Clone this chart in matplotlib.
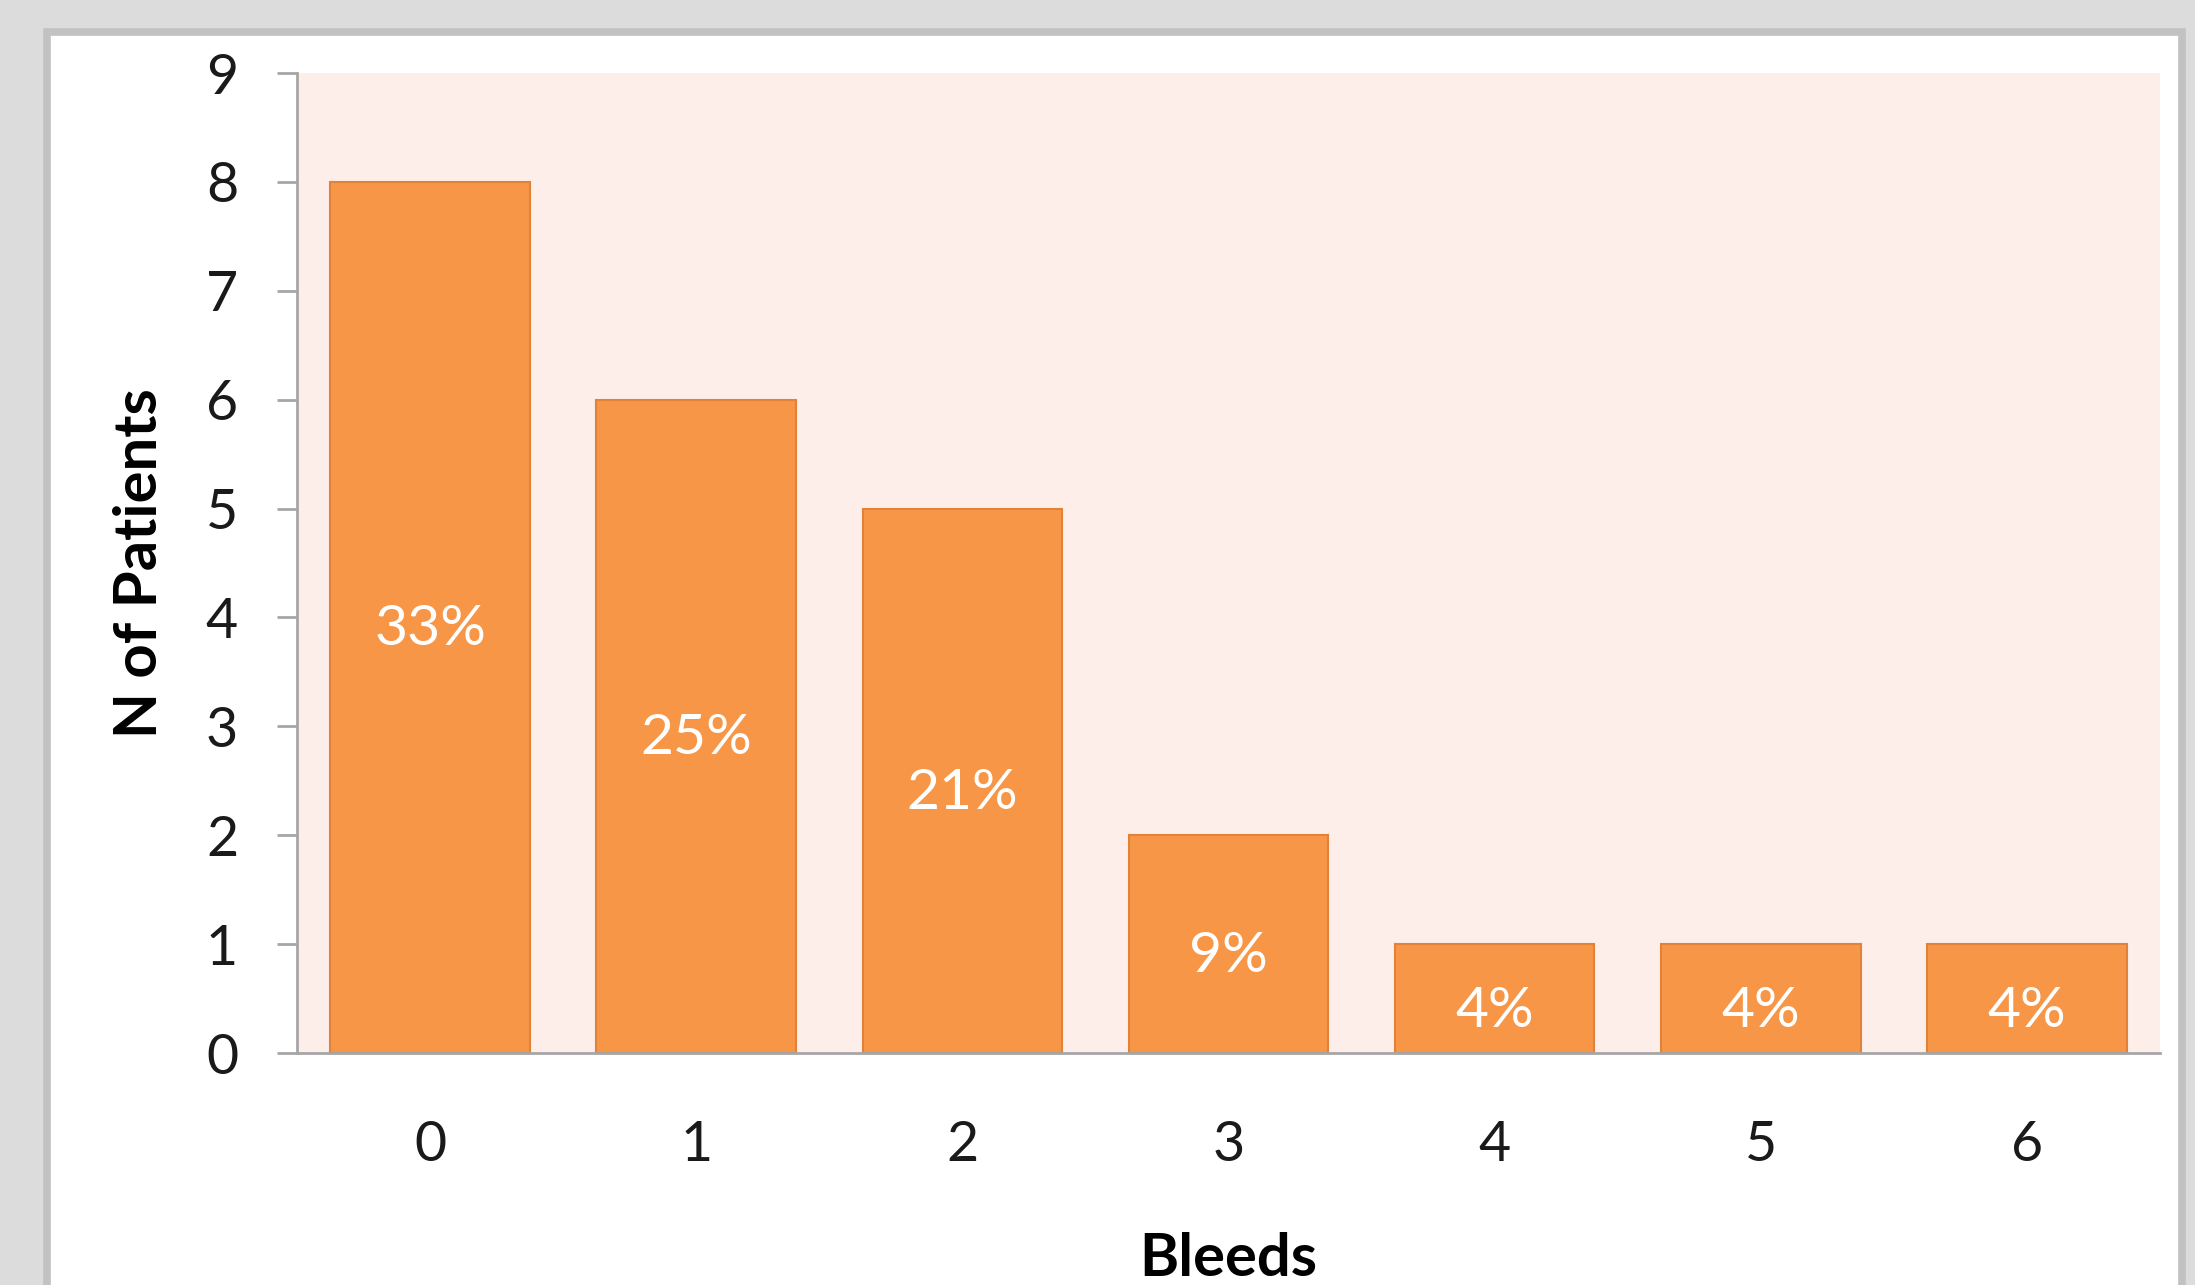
import matplotlib
matplotlib.use('Agg')
import matplotlib.pyplot as plt
from matplotlib.patches import Rectangle

bleeds = ['0', '1', '2', '3', '4', '5', '6']
patients = [8, 6, 5, 2, 1, 1, 1]
pct_labels = ['33%', '25%', '21%', '9%', '4%', '4%', '4%']

plt.rcParams['font.family'] = ['Lato', 'DejaVu Sans']

W, H = 2195, 1285
fig = plt.figure(figsize=(W / 100, H / 100), dpi=100, facecolor='#dcdcdc')

# white slide panel with grey frame
fig.patches.append(Rectangle((47 / W, -0.1), (2182 - 47) / W, 1.1 - 32 / H,
                             transform=fig.transFigure, facecolor='white',
                             edgecolor='#c2c2c2', linewidth=5.5, zorder=-1))

ax = fig.add_axes([297 / W, 1 - 1053 / H, (2160 - 297) / W, (1053 - 73) / H])
ax.set_facecolor('#fdeee9')

x = range(len(bleeds))
bars = ax.bar(x, patients, width=0.75, color='#f79646', edgecolor='#e0823a',
              linewidth=1.5, zorder=2)
for b, lab in zip(bars, pct_labels):
    ax.annotate(lab, (b.get_x() + b.get_width() / 2, b.get_height() / 2),
                xytext=(0, -9), textcoords='offset points',
                ha='center', va='center', color='white', fontsize=41, zorder=3)

ax.set_xlim(-0.5, len(bleeds) - 0.5)
ax.set_ylim(0, 9)
ax.set_yticks(range(10))
ax.set_xticks(list(x))
ax.set_xticklabels(bleeds)

for s in ['top', 'right']:
    ax.spines[s].set_visible(False)
for s in ['left', 'bottom']:
    ax.spines[s].set_color('#a6a6a6')
    ax.spines[s].set_linewidth(2)

ax.tick_params(axis='y', length=14.4, width=2, color='#a6a6a6', pad=28,
               labelsize=40, labelcolor='#1a1a1a')
ax.tick_params(axis='x', length=0, pad=48, labelsize=40, labelcolor='#1a1a1a')

ax.set_ylabel('N of Patients', fontsize=43, fontweight='bold', labelpad=28)
ax.set_xlabel('Bleeds', fontsize=43, fontweight='bold', labelpad=44)

fig.savefig('out.png', dpi=100, facecolor=fig.get_facecolor())
